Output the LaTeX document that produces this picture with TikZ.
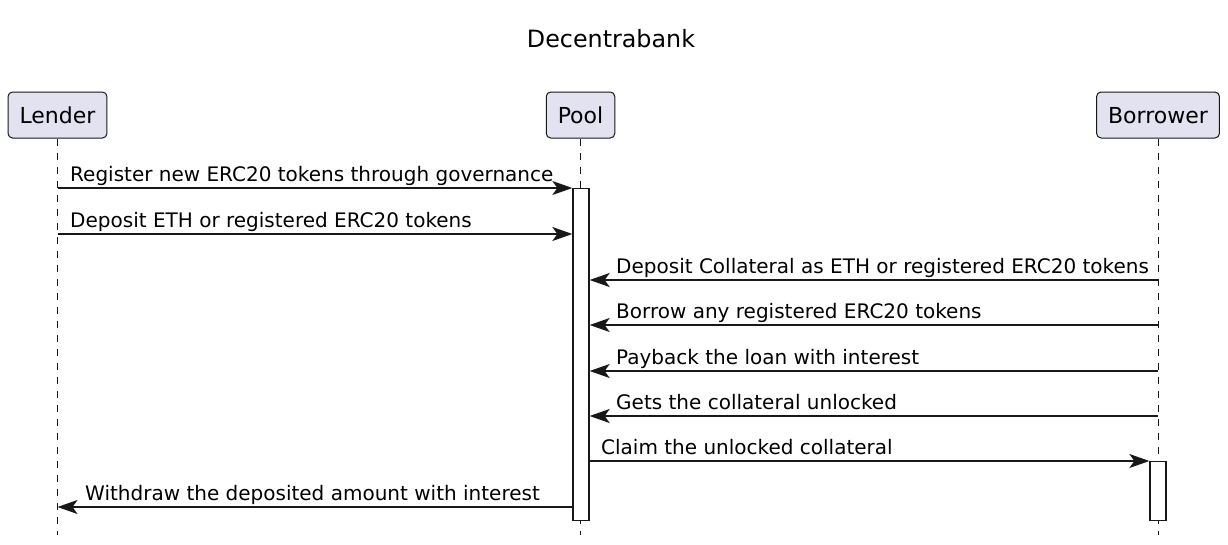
\documentclass[tikz,border=0pt]{standalone}
\usepackage{fontspec}
\setmainfont{DejaVu Sans}
\usetikzlibrary{arrows.meta}
\definecolor{umlline}{HTML}{181818}
\definecolor{umlfill}{HTML}{E2E2F0}
\tikzset{
  actor/.style={draw=umlline,fill=umlfill,line width=1pt,rounded corners=4.5pt,
    minimum height=46pt,inner xsep=11.5pt,inner ysep=0pt,text height=16pt,text depth=0pt,
    font=\fontsize{22}{26}\selectfont},
  lifeline/.style={umlline,line width=0.9pt,dash pattern=on 7pt off 7pt},
  actbar/.style={draw=umlline,fill=white,line width=1.3pt,minimum width=16pt,inner sep=0pt,anchor=north},
  msg/.style={umlline,line width=1.5pt,-{Stealth[length=20pt,width=14pt,inset=5pt]}},
  msgtext/.style={anchor=base west,inner sep=0pt,font=\fontsize{20}{24}\selectfont},
}
\begin{document}
\begin{tikzpicture}[x=1pt,y=-1pt]
  \useasboundingbox (0,0) rectangle (1228,544);
  \node[anchor=base,inner sep=0pt,font=\fontsize{23.8}{28}\selectfont] (title) at (611,47) {Decentrabank};
  % participants
  \node[actor] (lender) at (57.5,115) {Lender};
  \node[actor] (pool) at (580.5,115) {Pool};
  \node[actor] (borrower) at (1158,115) {Borrower};
  \draw[lifeline] (lender.south) -- (lender.south |- 0,535);
  \draw[lifeline] (pool.south) -- (pool.south |- 0,535);
  \draw[lifeline] (borrower.south) -- (borrower.south |- 0,535);
  % activations
  \node[actbar,minimum height=332pt] (poolact) at (581,188) {};
  \node[actbar,minimum height=59pt] (borrowact) at (1158,461) {};
  % messages
  \draw[msg] (lender |- 0,188) -- (poolact.west |- 0,188);
  \node[msgtext] (m1) at (70,181.5) {Register new ERC20 tokens through governance};
  \draw[msg] (lender |- 0,234) -- (poolact.west |- 0,234);
  \node[msgtext] (m2) at (70,227.5) {Deposit ETH or registered ERC20 tokens};
  \draw[msg] (borrower |- 0,280) -- (poolact.east |- 0,280);
  \node[msgtext] (m3) at (616,273.5) {Deposit Collateral as ETH or registered ERC20 tokens};
  \draw[msg] (borrower |- 0,325) -- (poolact.east |- 0,325);
  \node[msgtext] (m4) at (616,318.5) {Borrow any registered ERC20 tokens};
  \draw[msg] (borrower |- 0,371) -- (poolact.east |- 0,371);
  \node[msgtext] (m5) at (616,364.5) {Payback the loan with interest};
  \draw[msg] (borrower |- 0,416) -- (poolact.east |- 0,416);
  \node[msgtext] (m6) at (616,409.5) {Gets the collateral unlocked};
  \draw[msg] (poolact.east |- 0,461) -- (borrowact.north west);
  \node[msgtext] (m7) at (601,454.5) {Claim the unlocked collateral};
  \draw[msg] (poolact.west |- 0,507) -- (lender |- 0,507);
  \node[msgtext] (m8) at (85,500.5) {Withdraw the deposited amount with interest};
\end{tikzpicture}
\end{document}
